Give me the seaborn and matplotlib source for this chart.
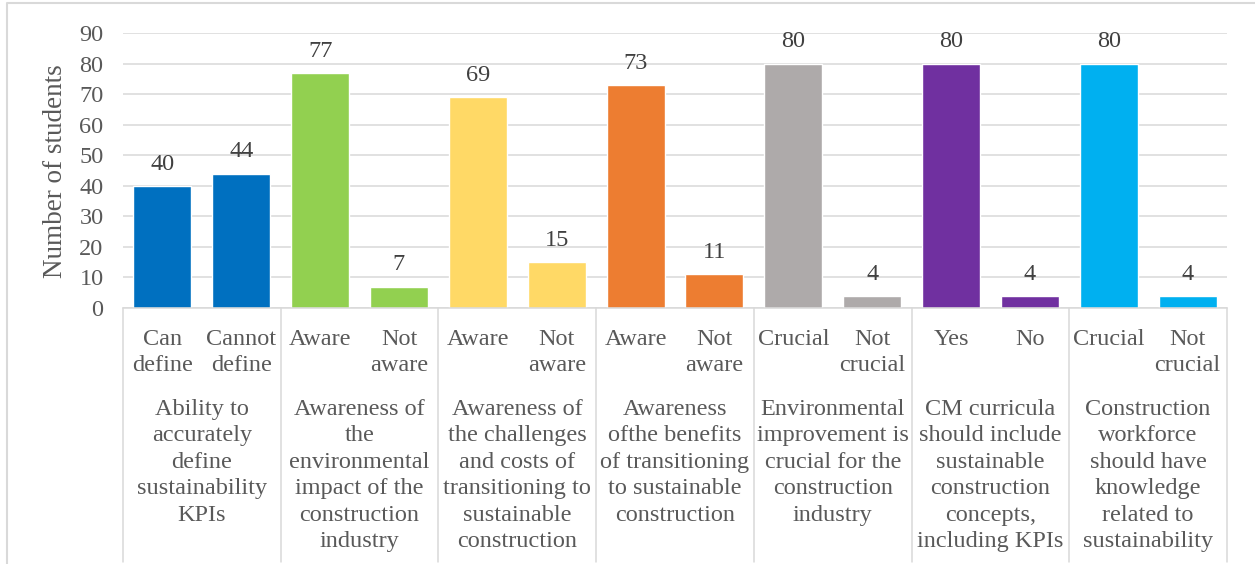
import matplotlib
matplotlib.use("Agg")
import matplotlib.pyplot as plt
from matplotlib.lines import Line2D
import seaborn as sns
import pandas as pd

# Survey groups (wrapped as they appear under the axis)
groups = [
    "Ability to\naccurately\ndefine\nsustainability\nKPIs",
    "Awareness of\nthe\nenvironmental\nimpact of the\nconstruction\nindustry",
    "Awareness of\nthe challenges\nand costs of\ntransitioning to\nsustainable\nconstruction",
    "Awareness\nofthe benefits\nof transitioning\nto sustainable\nconstruction",
    "Environmental\nimprovement is\ncrucial for the\nconstruction\nindustry",
    "CM curricula\nshould include\nsustainable\nconstruction\nconcepts,\nincluding KPIs",
    "Construction\nworkforce\nshould have\nknowledge\nrelated to\nsustainability",
]
options = [
    ["Can\ndefine", "Cannot\ndefine"],
    ["Aware", "Not\naware"],
    ["Aware", "Not\naware"],
    ["Aware", "Not\naware"],
    ["Crucial", "Not\ncrucial"],
    ["Yes", "No"],
    ["Crucial", "Not\ncrucial"],
]
counts = [
    [40, 44],
    [77, 7],
    [69, 15],
    [73, 11],
    [80, 4],
    [80, 4],
    [80, 4],
]
group_colors = ["#0070C0", "#92D050", "#FFD966", "#ED7D31",
                "#AEAAAA", "#7030A0", "#00B0F0"]

rows = []
for gi, (opts, vals) in enumerate(zip(options, counts)):
    for oi, (o, v) in enumerate(zip(opts, vals)):
        rows.append({"key": f"{gi}-{oi}", "group": gi, "option": o,
                     "students": v, "color": group_colors[gi]})
df = pd.DataFrame(rows)

sns.set_theme(style="white")
plt.rcParams["font.family"] = ["Liberation Serif", "DejaVu Serif"]

FS = 17.5
W, H = 1255, 564
fig = plt.figure(figsize=(W / 100, H / 100), dpi=100)

ax_left, ax_right, ax_top, ax_bottom = 123, 1227, 33, 308
ax = fig.add_axes([ax_left / W, 1 - ax_bottom / H,
                   (ax_right - ax_left) / W, (ax_bottom - ax_top) / H])

sns.barplot(data=df, x="key", y="students", hue="key",
            palette=list(df["color"]), legend=False, width=0.735,
            saturation=1, ax=ax)

n = len(df)
ax.set_xlim(-0.5, n - 0.5)
ax.set_ylim(0, 90)
ax.set_yticks(range(0, 91, 10))
ax.yaxis.grid(True, color="#D9D9D9", linewidth=1.1)
ax.set_axisbelow(True)
for s in ["top", "right", "left"]:
    ax.spines[s].set_visible(False)
ax.spines["bottom"].set_color("#D9D9D9")
ax.spines["bottom"].set_linewidth(1.1)
ax.tick_params(axis="y", length=0, pad=14, labelsize=FS, labelcolor="#595959")
ax.set_xticks([])
ax.set_xlabel("")
ax.set_ylabel("")

# Value labels above the bars
for i, v in enumerate(df["students"]):
    ax.annotate(f"{v}", (i, v), xytext=(0, 8), textcoords="offset points",
                ha="center", va="bottom", fontsize=FS, color="#404040")

fig.text(56 / W, 1 - 171 / H, "Number of students", rotation=90,
         ha="center", va="center", fontsize=19.5, color="#595959")

# Two-level category axis below the bars
cat_w = (ax_right - ax_left) / n
text_kw = dict(ha="center", va="top", fontsize=FS, color="#595959",
               linespacing=1.34)
for i, o in enumerate(df["option"]):
    xc = ax_left + cat_w * (i + 0.5)
    fig.text(xc / W, 1 - 329 / H, o, **text_kw)
for gi, g in enumerate(groups):
    xc = ax_left + cat_w * (2 * gi + 1)
    fig.text(xc / W, 1 - 399 / H, g, **text_kw)
for k in range(len(groups) + 1):
    xs = (ax_left + cat_w * 2 * k) / W
    fig.add_artist(Line2D([xs, xs], [1 - ax_bottom / H, 1 - 562 / H],
                          transform=fig.transFigure, color="#D9D9D9",
                          linewidth=1.1))

# Outer chart frame
fig.add_artist(Line2D([7 / W, 7 / W, 1.01], [0, 1 - 3 / H, 1 - 3 / H],
                      transform=fig.transFigure, color="#D9D9D9",
                      linewidth=1.5))

fig.savefig("out.png", dpi=100)
